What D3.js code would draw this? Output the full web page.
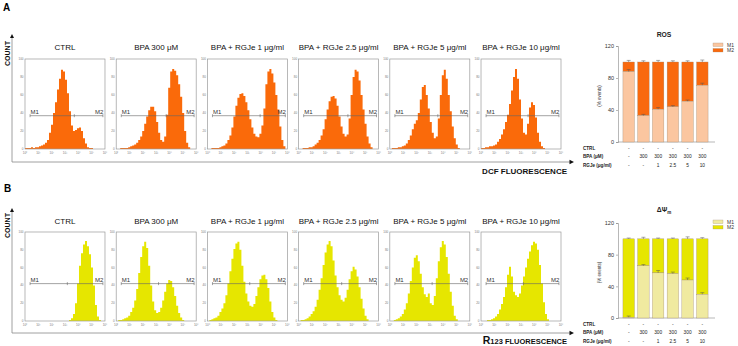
<!DOCTYPE html>
<html>
<head>
<meta charset="utf-8">
<script src="https://cdn.jsdelivr.net/npm/d3@7"></script>
<style>
body{margin:0;background:#fff;}
text{font-family:"Liberation Sans",Arial,sans-serif;}
</style>
</head>
<body>
<svg id="vis" width="738" height="346"></svg>
<script>
// panel titles (same for both rows)
var titles = ['CTRL', 'BPA 300 \u03bcM', 'BPA + RGJe 1 \u03bcg/ml', 'BPA + RGJe 2.5 \u03bcg/ml', 'BPA + RGJe 5 \u03bcg/ml', 'BPA + RGJe 10 \u03bcg/ml'];

// DCF histograms (40 log bins, 10^0..10^6), counts
var dcfCtrl = [1,1,1,2,1,2,2,3,4,5,7,10,18,27,40,52,66,78,88,86,77,62,42,26,20,21,23,24,20,12,6,2,1,1,0,0,0,0,0,0];
var dcf300  = [0,0,1,1,1,1,2,3,4,5,7,10,14,20,28,36,43,47,47,42,30,18,10,8,14,38,68,86,89,87,82,72,58,40,20,7,2,0,0,0];
var dcf1    = [0,0,1,1,1,1,2,3,4,6,10,15,24,36,48,57,61,62,59,52,43,33,24,17,14,13,17,26,45,72,86,89,84,74,60,44,25,10,3,0];
var dcf25   = [0,0,1,1,1,2,2,3,5,7,10,15,22,33,44,53,58,59,56,48,36,25,17,14,16,34,60,80,88,86,76,60,44,28,14,6,2,0,0,0];
var dcf5    = [0,1,1,1,2,2,3,4,6,10,15,22,28,32,40,55,69,71,60,45,30,18,12,14,34,60,82,88,78,60,42,25,12,5,1,0,0,0,0,0];
var dcf10   = [1,1,2,2,3,3,4,5,8,11,16,22,30,38,50,65,80,89,78,55,34,18,16,28,46,52,49,35,18,8,3,1,0,0,0,0,0,0,0,0];

// R123 histograms
var r123Ctrl = [0,0,0,0,0,0,0,0,0,0,0,0,0,0,0,0,0,0,0,0,0,0,1,3,8,20,42,62,76,86,90,84,75,60,40,18,5,1,0,0];
var r123_300 = [0,1,1,2,3,4,6,10,15,23,36,54,72,84,89,82,62,40,22,12,9,10,15,23,33,42,46,45,38,28,17,9,4,1,0,0,0,0,0,0];
var r123_1   = [0,1,2,3,4,6,10,14,20,29,42,56,70,81,87,89,80,62,44,31,22,17,16,19,28,38,47,51,52,47,37,22,10,4,1,0,0,0,0,0];
var r123_25  = [0,1,1,2,3,5,8,11,16,24,35,48,63,77,86,90,84,68,51,38,29,24,22,26,35,47,56,61,58,50,38,25,14,6,2,0,0,0,0,0];
var r123_5   = [0,0,1,2,3,5,8,13,20,31,45,60,71,74,67,53,38,30,27,31,20,18,28,48,67,83,90,86,72,53,33,17,6,2,0,0,0,0,0,0];
var r123_10  = [0,0,0,1,1,2,3,5,8,13,19,27,38,52,61,50,33,29,27,31,40,50,60,70,78,85,89,87,80,63,42,21,8,2,0,0,0,0,0,0];

var histA = [dcfCtrl, dcf300, dcf1, dcf25, dcf5, dcf10];
var histB = [r123Ctrl, r123_300, r123_1, r123_25, r123_5, r123_10];

// M1/M2 gate boundaries (fluorescence units)
var gateStart = [2.4, 2.4, 2.4, 2.4, 2.4, 2.4];
var gateEnd = [7e5, 7e5, 7e5, 7e5, 7e5, 7e5];
var gateMidA = [5000, 5600, 9000, 5000, 4000, 3400];
var gateMidB = [1500, 1500, 1500, 1700, 1500, 1500];

var histTicksY = [0, 20, 40, 60, 80, 100];
var histTicksX = [1, 10, 100, 1e3, 1e4, 1e5, 1e6];

// bar charts (% events)
var groups = ['g1','g2','g3','g4','g5','g6'];
var ctrlRow = ['-','-','-','-','-','-'];
var bpaRow = ['-','300','300','300','300','300'];
var rgjeRow = ['-','-','1','2.5','5','10'];

var rosM1 = [88, 33, 41, 44, 51, 71];
var rosM1Err = [2.5, 1.5, 2, 1.5, 1.5, 2.5];
var rosM2 = [12, 67, 59, 56, 49, 29];
var rosM2Err = [2, 1.5, 2, 1.5, 1.5, 2.5];

var mmpM1 = [1, 66, 57, 56, 48, 30];
var mmpM1Err = [1.5, 1.5, 3, 2, 2.5, 2];
var mmpM2 = [99, 34, 43, 44, 52, 70];
var mmpM2Err = [1, 2, 1, 1, 2.5, 1.5];

var barTicks = [0, 40, 80, 120];

var svg = d3.select('#vis');

var sup = {'0':'\u2070','1':'\u00b9','2':'\u00b2','3':'\u00b3','4':'\u2074','5':'\u2075','6':'\u2076','-':'\u207b'};
function logLabel(v){
    var e = String(Math.round(Math.log10(v)));
    return '10' + e.split('').map(function(c){return sup[c];}).join('');
}

var panelX = d3.scaleBand().domain(titles).range([25, 561]).paddingInner(0.123);

// one row of histograms
function drawRow(hists, top, bottom, color, gateMid, gateFrac, titleY) {
    var g = svg.append('g');

    hists.forEach(function(vals, i){
        var x0 = panelX(titles[i]);
        var bw = panelX.bandwidth();
        var x = d3.scaleLog().domain([1, 1e6]).range([x0, x0 + bw]);
        var y = d3.scaleLinear().domain([0, 100]).range([bottom, top]);
        var n = vals.length;

        var pts = vals.map(function(v, k){ return {x: Math.pow(10, 6 * k / n), y: v}; });
        pts.push({x: 1e6, y: vals[n - 1]});

        var area = d3.area()
            .curve(d3.curveStepAfter)
            .x(function(d){ return x(d.x); })
            .y0(y(0))
            .y1(function(d){ return y(d.y); });

        g.append('path')
            .attr('d', area(pts))
            .attr('fill', color);

        // frame
        g.append('rect')
            .attr('x', x0).attr('y', top)
            .attr('width', bw).attr('height', bottom - top)
            .attr('fill', 'none')
            .attr('stroke', '#9a9a9a')
            .attr('stroke-width', 0.7);

        // tiny tick labels
        g.selectAll(null).data(histTicksY).enter()
            .append('text')
            .attr('x', x0 - 1.5)
            .attr('y', function(d){ return y(d) + 1; })
            .attr('text-anchor', 'end')
            .attr('font-size', 3)
            .attr('fill', '#777')
            .text(function(d){ return d; });

        g.selectAll(null).data(histTicksX).enter()
            .append('text')
            .attr('x', function(d){ return x(d); })
            .attr('y', bottom + 4.5)
            .attr('text-anchor', 'middle')
            .attr('font-size', 3)
            .attr('fill', '#777')
            .text(logLabel);

        // M1 / M2 markers
        var my = y(gateFrac);
        var xs = x(gateStart[i]), xe = x(gateEnd[i]), xm = x(gateMid[i]);
        g.append('line')
            .attr('x1', xs).attr('x2', xe).attr('y1', my).attr('y2', my)
            .attr('stroke', '#666').attr('stroke-width', 0.6);
        [xs, xm, xe].forEach(function(xx){
            g.append('line')
                .attr('x1', xx).attr('x2', xx).attr('y1', my - 1.5).attr('y2', my + 1.5)
                .attr('stroke', '#666').attr('stroke-width', 0.6);
        });
        g.append('text').attr('x', xs + 0.5).attr('y', my - 1.5)
            .attr('font-size', 6).attr('fill', '#333').text('M1');
        g.append('text').attr('x', xe + 0.5).attr('y', my - 1.5)
            .attr('text-anchor', 'end')
            .attr('font-size', 6).attr('fill', '#333').text('M2');

        // title
        g.append('text')
            .attr('x', x0 + bw / 2)
            .attr('y', titleY)
            .attr('text-anchor', 'middle')
            .attr('font-size', 8)
            .attr('fill', '#111')
            .text(titles[i]);
    });
}

function drawAxes(yTop, yBottom, countY) {
    svg.append('line')
        .attr('x1', 12).attr('x2', 12).attr('y1', yTop + 3).attr('y2', yBottom)
        .attr('stroke', '#888').attr('stroke-width', 0.8);
    svg.append('line')
        .attr('x1', 12).attr('x2', 570).attr('y1', yBottom).attr('y2', yBottom)
        .attr('stroke', '#888').attr('stroke-width', 0.8);
    svg.append('path')
        .attr('d', 'M12,' + yTop + ' l-2,4 l4,0 z')
        .attr('fill', '#111');
    svg.append('path')
        .attr('d', 'M574,' + yBottom + ' l-4.5,-2.2 l0,4.4 z')
        .attr('fill', '#111');
    svg.append('text')
        .attr('transform', 'translate(9.5,' + countY + ') rotate(-90)')
        .attr('text-anchor', 'middle')
        .attr('font-size', 7)
        .attr('font-weight', 'bold')
        .attr('fill', '#111')
        .text('COUNT');
}

// stacked bar chart
function drawBars(m1, m1Err, m2, m2Err, c1, c2, yTop, yBottom, titleText, titleY) {
    var g = svg.append('g');
    var x = d3.scaleBand().domain(groups).range([620, 711]).paddingInner(0.22).paddingOuter(0.2);
    var y = d3.scaleLinear().domain([0, 120]).range([yBottom, yTop]);

    var axisY = d3.axisLeft(y).tickValues(barTicks).tickSize(2).tickPadding(2);
    var ga = g.append('g').attr('transform', 'translate(618,0)').call(axisY);
    ga.selectAll('text').attr('font-size', 5.5).attr('fill', '#333').style('font-family', '"Liberation Sans",Arial,sans-serif');
    ga.selectAll('line,path').attr('stroke', '#888').attr('stroke-width', 0.6);

    g.append('line')
        .attr('x1', 618).attr('x2', 715).attr('y1', yBottom).attr('y2', yBottom)
        .attr('stroke', '#888').attr('stroke-width', 0.6);

    groups.forEach(function(k, i){
        var bx = x(k), bw = x.bandwidth();
        g.append('rect')
            .attr('x', bx).attr('y', y(m1[i] + m2[i]))
            .attr('width', bw).attr('height', y(m1[i]) - y(m1[i] + m2[i]))
            .attr('fill', c2).attr('stroke', '#a08a70').attr('stroke-width', 0.35);
        g.append('rect')
            .attr('x', bx).attr('y', y(m1[i]))
            .attr('width', bw).attr('height', y(0) - y(m1[i]))
            .attr('fill', c1).attr('stroke', '#a08a70').attr('stroke-width', 0.35);

        [[m1[i], m1Err[i]], [m1[i] + m2[i], m2Err[i]]].forEach(function(e){
            var cx = bx + bw / 2;
            g.append('line')
                .attr('x1', cx).attr('x2', cx).attr('y1', y(e[0])).attr('y2', y(e[0] + e[1]))
                .attr('stroke', '#555').attr('stroke-width', 0.5);
            g.append('line')
                .attr('x1', cx - 2).attr('x2', cx + 2).attr('y1', y(e[0] + e[1])).attr('y2', y(e[0] + e[1]))
                .attr('stroke', '#555').attr('stroke-width', 0.5);
        });
    });

    // y label
    g.append('text')
        .attr('transform', 'translate(601,' + ((yTop + yBottom) / 2 + 2) + ') rotate(-90)')
        .attr('text-anchor', 'middle')
        .attr('font-size', 4.5)
        .attr('fill', '#333')
        .text('(% events)');

    // treatment table
    var rows = [['CTRL', ctrlRow], ['BPA (\u03bcM)', bpaRow], ['RGJe (\u03bcg/ml)', rgjeRow]];
    rows.forEach(function(r, j){
        var ty = yBottom + 8 + j * 8.3;
        g.append('text')
            .attr('x', 583).attr('y', ty)
            .attr('font-size', 4.6).attr('font-weight', 'bold').attr('fill', '#222')
            .text(r[0]);
        g.selectAll(null).data(r[1]).enter()
            .append('text')
            .attr('x', function(d, i){ return x(groups[i]) + x.bandwidth() / 2; })
            .attr('y', ty)
            .attr('text-anchor', 'middle')
            .attr('font-size', 4.8).attr('fill', '#222')
            .text(function(d){ return d; });
    });

    // legend
    [['M1', c1], ['M2', c2]].forEach(function(l, j){
        g.append('rect')
            .attr('x', 713).attr('y', yTop - 3 + j * 5.5)
            .attr('width', 10).attr('height', 3.5)
            .attr('fill', l[1]).attr('stroke', '#a08a70').attr('stroke-width', 0.3);
        g.append('text')
            .attr('x', 727).attr('y', yTop + 0.6 + j * 5.5)
            .attr('font-size', 5).attr('fill', '#333')
            .text(l[0]);
    });

    // title
    var t = g.append('text')
        .attr('x', 664).attr('y', titleY)
        .attr('text-anchor', 'middle')
        .attr('font-size', 6.8).attr('font-weight', 'bold').attr('fill', '#222');
    t.append('tspan').text(titleText[0]);
    if (titleText[1]) {
        t.append('tspan').attr('font-size', 4.5).attr('dy', 1.5).text(titleText[1]);
    }
}

// panel letters
svg.append('text').attr('x', 3).attr('y', 11).attr('font-size', 10).attr('font-weight', 'bold').text('A');
svg.append('text').attr('x', 4).attr('y', 192).attr('font-size', 10).attr('font-weight', 'bold').text('B');

drawAxes(34, 162, 53.5);
drawRow(histA, 59, 149, '#FA6A0A', gateMidA, 37, 50);
svg.append('text')
    .attr('x', 567).attr('y', 174)
    .attr('text-anchor', 'end')
    .attr('font-size', 8).attr('font-weight', 'bold').attr('fill', '#111')
    .text('DCF FLUORESCENCE');

drawAxes(208, 333, 225.5);
drawRow(histB, 232, 321, '#E6E600', gateMidB, 42, 224);
var rt = svg.append('text')
    .attr('x', 567).attr('y', 344)
    .attr('text-anchor', 'end')
    .attr('font-weight', 'bold').attr('fill', '#111');
rt.append('tspan').attr('font-size', 10.5).text('R');
rt.append('tspan').attr('font-size', 7.5).text('123 FLUORESCENCE');

drawBars(rosM1, rosM1Err, rosM2, rosM2Err, '#FBC6A0', '#F9690E', 46, 142, ['ROS'], 37);
drawBars(mmpM1, mmpM1Err, mmpM2, mmpM2Err, '#F0EAA0', '#E6E600', 223, 318, ['\u0394\u03a8', 'm'], 212);
</script>
</body>
</html>
